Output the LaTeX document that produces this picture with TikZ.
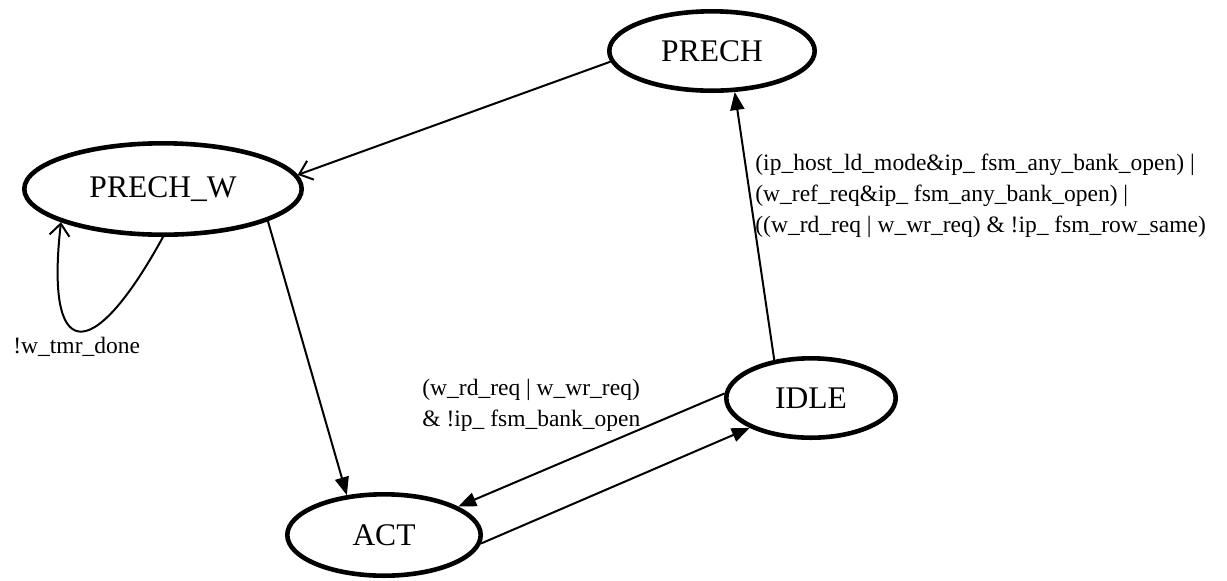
\documentclass[tikz,border=0pt]{standalone}
\usepackage{fontspec}
\setmainfont{Liberation Serif}
\usetikzlibrary{shapes.geometric,arrows.meta}
\tikzset{
  state/.style={ellipse,draw,line width=2.3pt,inner sep=0pt,font=\fontsize{15.75}{18}\selectfont},
  trans/.style={line width=1pt,-{Triangle[length=9pt,width=7pt]}},
  opentrans/.style={line width=1pt,-{Straight Barb[length=6pt,width=10pt]}},
  cond/.style={inner sep=0pt,align=left,font=\fontsize{11.75}{15.5}\selectfont}
}
\begin{document}
\begin{tikzpicture}[x=0.5pt,y=-0.5pt]
        \useasboundingbox (0,0) rectangle (1227,580);

        \node[state,minimum width=102.7pt,minimum height=39.7pt] (prech) at (712,51) {PRECH};
        \node[state,minimum width=138.7pt,minimum height=45.7pt] (prechw) at (163,189) {PRECH\_W};
        \node[state,minimum width=96.7pt,minimum height=40.7pt] (act) at (384,535) {ACT};
        \node[state,minimum width=84.7pt,minimum height=39.7pt] (idle) at (811,398) {IDLE};

        \draw[opentrans] (prech.186) -- (prechw.6);
        \draw[trans] (prechw.343) -- (act.133);
        \draw[opentrans] (prechw.270) .. controls (90,370) and (45,360) .. (prechw.198);
        \draw[trans] (idle.134) -- (prech.299);
        \draw[trans] (idle.177) -- (act.21);
        \draw[trans] (act.355) -- (idle.206);

        \node[cond,anchor=base west] (tmrlbl) at (13,353) {!w\_tmr\_done};
        \node[cond,anchor=north west] (banklbl) at (422,379) {(w\_rd\_req | w\_wr\_req)\\\& !ip\_ fsm\_bank\_open};
        \node[cond,anchor=north west] (rowlbl) at (755,154) {(ip\_host\_ld\_mode\&ip\_ fsm\_any\_bank\_open) |\\(w\_ref\_req\&ip\_ fsm\_any\_bank\_open) |\\((w\_rd\_req | w\_wr\_req) \& !ip\_ fsm\_row\_same)};
    \end{tikzpicture}
\end{document}
